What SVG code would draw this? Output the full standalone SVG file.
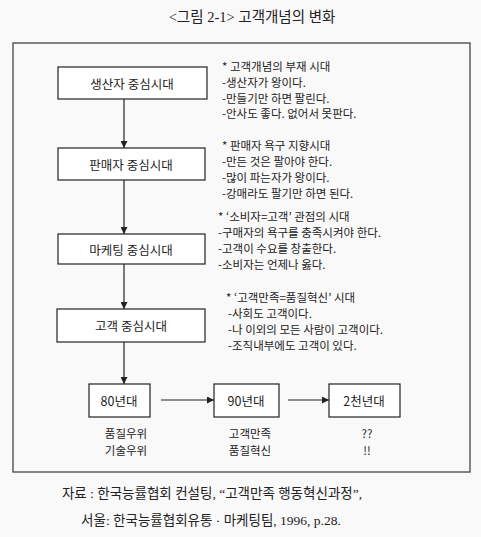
<svg xmlns="http://www.w3.org/2000/svg" width="481" height="537" viewBox="0 0 481 537">
<style>
.bg{fill:#faf9fa}
.frame{fill:none;stroke:#444;stroke-width:1.3}
.box{fill:#ffffff;stroke:#222;stroke-width:1.2}
.bt{font-family:"Noto Sans CJK KR","Noto Sans",sans-serif;font-size:12.5px;fill:#222;text-anchor:middle;dominant-baseline:central}
.rt{font-family:"Noto Sans CJK KR","Noto Sans",sans-serif;font-size:11.5px;fill:#222;dominant-baseline:central}
.lt{font-family:"Noto Sans CJK KR","Noto Sans",sans-serif;font-size:11.5px;fill:#222;text-anchor:middle;dominant-baseline:central}
.ser{font-family:"Liberation Serif","Noto Sans CJK KR",serif;font-size:13.5px;fill:#222;text-anchor:middle;dominant-baseline:central}
.conn{stroke:#222;stroke-width:1.2;fill:none;marker-end:url(#ah)}
</style>
<defs>
<marker id="ah" viewBox="0 0 10 10" refX="10" refY="5" markerWidth="7" markerHeight="7" markerUnits="userSpaceOnUse" orient="auto">
<path d="M0,0 L10,5 L0,10 Z" fill="#222"/>
</marker>
</defs>
<rect class="bg" x="0" y="0" width="481" height="537"/>
<text class="ser" x="252" y="17" style="font-size:14.5px">&lt;그림 2-1&gt; 고객개념의 변화</text>
<rect class="frame" x="13" y="43" width="457" height="429"/>

<g id="connectors">
<line class="conn" x1="124" y1="99" x2="124" y2="148"/>
<line class="conn" x1="124" y1="180" x2="124" y2="234"/>
<line class="conn" x1="124" y1="264" x2="124" y2="309"/>
<line class="conn" x1="124" y1="342" x2="124" y2="384"/>
<line class="conn" x1="161" y1="400" x2="214" y2="400"/>
<line class="conn" x1="288" y1="400" x2="329" y2="400"/>
</g>

<g id="n1">
<rect class="box" x="58" y="67" width="149" height="32"/>
<text class="bt" x="132" y="83">생산자 중심시대</text>
</g>
<g id="t1">
<text class="rt" x="222" y="66">* 고객개념의 부재 시대</text>
<text class="rt" x="222" y="82">-생산자가 왕이다.</text>
<text class="rt" x="222" y="98">-만들기만 하면 팔린다.</text>
<text class="rt" x="222" y="113">-안사도 좋다. 없어서 못판다.</text>
</g>

<g id="n2">
<rect class="box" x="58" y="148" width="147" height="32"/>
<text class="bt" x="131" y="164">판매자 중심시대</text>
</g>
<g id="t2">
<text class="rt" x="222" y="145">* 판매자 욕구 지향시대</text>
<text class="rt" x="222" y="161">-만든 것은 팔아야 한다.</text>
<text class="rt" x="222" y="177">-많이 파는자가 왕이다.</text>
<text class="rt" x="222" y="193">-강매라도 팔기만 하면 된다.</text>
</g>

<g id="n3">
<rect class="box" x="58" y="234" width="147" height="30"/>
<text class="bt" x="131" y="249">마케팅 중심시대</text>
</g>
<g id="t3">
<text class="rt" x="218" y="216">* ‘소비자=고객’ 관점의 시대</text>
<text class="rt" x="218" y="232">-구매자의 욕구를 충족시켜야 한다.</text>
<text class="rt" x="218" y="248">-고객이 수요를 창출한다.</text>
<text class="rt" x="218" y="264">-소비자는 언제나 옳다.</text>
</g>

<g id="n4">
<rect class="box" x="57" y="309" width="148" height="33"/>
<text class="bt" x="131" y="325">고객 중심시대</text>
</g>
<g id="t4">
<text class="rt" x="226" y="297">* ‘고객만족=품질혁신’ 시대</text>
<text class="rt" x="228" y="313">-사회도 고객이다.</text>
<text class="rt" x="228" y="329">-나 이외의 모든 사람이 고객이다.</text>
<text class="rt" x="228" y="345">-조직내부에도 고객이 있다.</text>
</g>

<g id="n5">
<rect class="box" x="89" y="384" width="61" height="33"/>
<text class="bt" x="119" y="400">80년대</text>
<text class="lt" x="126" y="433">품질우위</text>
<text class="lt" x="126" y="450">기술우위</text>
</g>
<g id="n6">
<rect class="box" x="214" y="384" width="65" height="33"/>
<text class="bt" x="246" y="400">90년대</text>
<text class="lt" x="250" y="433">고객만족</text>
<text class="lt" x="250" y="450">품질혁신</text>
</g>
<g id="n7">
<rect class="box" x="329" y="384" width="71" height="33"/>
<text class="bt" x="364" y="400">2천년대</text>
<text class="lt" x="367" y="433">??</text>
<text class="lt" x="367" y="450">!!</text>
</g>

<text class="ser" x="212" y="493">자료 : 한국능률협회 컨설팅, “고객만족 행동혁신과정”,</text>
<text class="ser" x="211" y="520">서울: 한국능률협회유통 · 마케팅팀, 1996, p.28.</text>
</svg>
